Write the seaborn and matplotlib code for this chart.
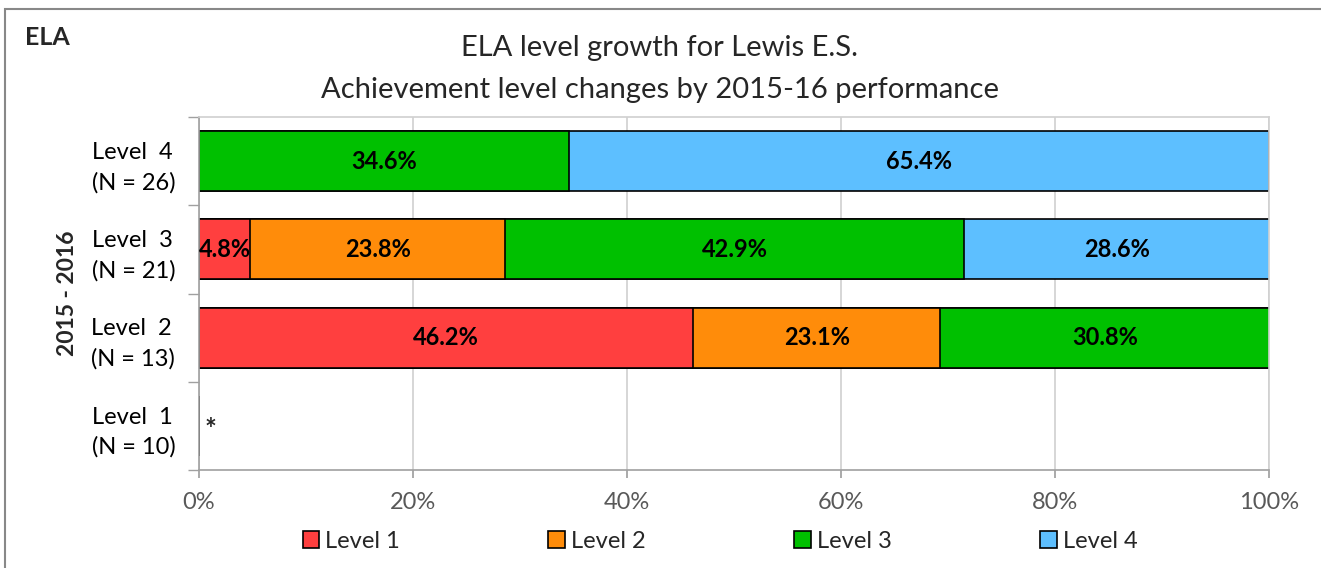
import numpy as np
import pandas as pd
import seaborn as sns
import matplotlib.pyplot as plt
from matplotlib.patches import Rectangle, Patch

# rows (2015-16 level), top to bottom
rows = ['Level  4\n(N = 26)', 'Level  3\n(N = 21)', 'Level  2\n(N = 13)', 'Level  1\n(N = 10)']
series = ['Level 1', 'Level 2', 'Level 3', 'Level 4']
level1 = [0.0, 4.8, 46.2, 0.0]
level2 = [0.0, 23.8, 23.1, 0.0]
level3 = [34.6, 42.9, 30.8, 0.0]
level4 = [65.4, 28.6, 0.0, 0.0]
suppressed = [False, False, False, True]
colors = ['#FF3F3F', '#FF8C0A', '#00C000', '#5DBFFF']

sns.set_theme(style='white')
plt.rcParams['font.family'] = ['Lato', 'DejaVu Sans']

df = pd.DataFrame({'row': rows, 'Level 1': level1, 'Level 2': level2,
                   'Level 3': level3, 'Level 4': level4})
vals = df[series].to_numpy()
cum = vals.cumsum(axis=1)

fig = plt.figure(figsize=(13.21, 5.68), dpi=100)
ax = fig.add_axes([0.1506, 0.1725, 0.8100, 0.6215])

# draw cumulative totals, largest first, so each segment shows on top
for i in range(len(series) - 1, -1, -1):
    d = pd.DataFrame({'row': rows, 'x': cum[:, i]})
    sns.barplot(data=d, x='x', y='row', order=rows, color=colors[i],
                orient='h', width=0.68, edgecolor='black', linewidth=1.2,
                saturation=1, ax=ax)

# segment labels
for r in range(len(rows)):
    for i in range(len(series)):
        v = vals[r, i]
        if v > 0:
            mid = cum[r, i] - v / 2
            ax.text(mid, r, f'{v:.1f}%', ha='center', va='center',
                    fontsize=17, fontweight='bold', color='black')
    if suppressed[r]:
        ax.text(0.5, r + 0.05, '*', ha='left', va='center', fontsize=20,
                fontweight='bold')

ax.set_xlim(0, 100)
ax.set_ylim(3.5, -0.5)
ax.set_xticks(np.arange(0, 101, 20))
ax.set_xticklabels([f'{t}%' for t in range(0, 101, 20)], fontsize=17,
                   color='#595959')
ax.set_yticks(np.arange(-0.5, 3.6, 1), minor=True)
ax.set_yticks(range(len(rows)))
ax.set_yticklabels(rows, fontsize=17, color='black', multialignment='left',
                   linespacing=1.5)
ax.tick_params(axis='y', which='major', length=0, pad=17)
ax.tick_params(axis='y', which='minor', length=8, color='#A0A0A0', left=True)
ax.tick_params(axis='x', which='major', length=6, color='#A0A0A0', bottom=True,
               pad=10)
ax.grid(axis='x', color='#D0D0D0', linewidth=1.2)
ax.set_axisbelow(True)
for s in ['top', 'right']:
    ax.spines[s].set_color('#D0D0D0')
    ax.spines[s].set_linewidth(1.2)
for s in ['left', 'bottom']:
    ax.spines[s].set_color('#A0A0A0')
    ax.spines[s].set_linewidth(1.2)
ax.set_xlabel('')
ax.set_ylabel('2015 - 2016', fontsize=16.5, fontweight='bold', labelpad=10)

fig.text(0.4995, 0.915, 'ELA level growth for Lewis E.S.', ha='center',
         va='center', fontsize=21)
fig.text(0.4995, 0.842, 'Achievement level changes by 2015-16 performance',
         ha='center', va='center', fontsize=21)
fig.text(0.019, 0.934, 'ELA', ha='left', va='center', fontsize=18,
         fontweight='bold')

handles = [Patch(facecolor=c, edgecolor='black', linewidth=1.2) for c in colors]
fig.legend(handles, series, loc='center', bbox_to_anchor=(0.545, 0.047),
           ncol=4, frameon=False, fontsize=17, columnspacing=6.3,
           handlelength=0.7, handleheight=0.7, handletextpad=0.25)

fig.patches.append(Rectangle((0.004, -0.05), 1.2, 1.034, transform=fig.transFigure,
                             fill=False, edgecolor='#888888', linewidth=1.5))

fig.savefig('out.png', dpi=100)
